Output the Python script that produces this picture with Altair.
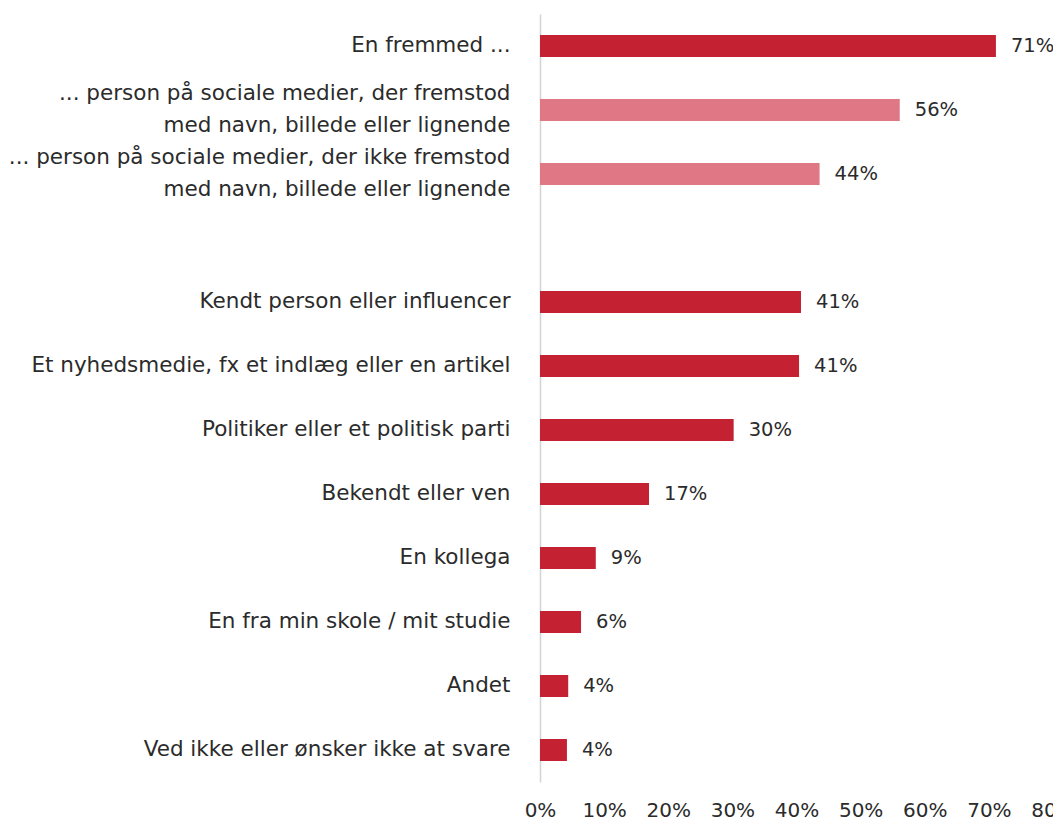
import altair as alt
import pandas as pd

categories = [
    "En fremmed ...",
    "... person på sociale medier, der fremstod|med navn, billede eller lignende",
    "... person på sociale medier, der ikke fremstod|med navn, billede eller lignende",
    "Kendt person eller influencer",
    "Et nyhedsmedie, fx et indlæg eller en artikel",
    "Politiker eller et politisk parti",
    "Bekendt eller ven",
    "En kollega",
    "En fra min skole / mit studie",
    "Andet",
    "Ved ikke eller ønsker ikke at svare",
]
values = [71.1, 56.1, 43.6, 40.7, 40.4, 30.2, 17.0, 8.7, 6.4, 4.4, 4.2]
labels = ["71%", "56%", "44%", "41%", "41%", "30%", "17%", "9%", "6%", "4%", "4%"]
groups = ["main", "sub", "sub", "main", "main", "main", "main", "main", "main", "main", "main"]
x_ticks = [0, 10, 20, 30, 40, 50, 60, 70, 80]

gap = " "
domain = categories[:3] + [gap] + categories[3:]

df = pd.DataFrame({"cat": categories, "value": values, "label": labels, "group": groups})

FONT = "DejaVu Sans"
FS = 21.5
TXT = "#2b2b2b"

yscale = alt.Scale(domain=domain, paddingInner=0.656, paddingOuter=0.328)
xscale = alt.Scale(domain=[0, 80], nice=False)

y_axis = alt.Axis(
    title=None,
    labelExpr="split(datum.value, '|')",
    labelFont=FONT,
    labelFontSize=FS,
    labelColor=TXT,
    labelPadding=30,
    labelLineHeight=32,
    labelLimit=600,
    labelOffset={"condition": {"test": "indexof(datum.value, '|') >= 0", "value": -16}, "value": 0},
    ticks=False,
    domainColor="#d4d4d4",
    domainWidth=1.5,
    grid=False,
)

x_axis = alt.Axis(
    title=None,
    values=x_ticks,
    labelExpr="datum.value + '%'",
    labelFont=FONT,
    labelFontSize=20,
    labelColor=TXT,
    labelPadding=18,
    labelFlush=False,
    labelOverlap=False,
    ticks=False,
    domain=False,
    grid=False,
)

bars = alt.Chart(df).mark_bar().encode(
    y=alt.Y("cat:N", scale=yscale, axis=y_axis),
    x=alt.X("value:Q", scale=xscale, axis=x_axis),
    color=alt.Color(
        "group:N",
        scale=alt.Scale(domain=["main", "sub"], range=["#C42133", "#DF7884"]),
        legend=None,
    ),
)

text = alt.Chart(df).mark_text(
    align="left", baseline="middle", dx=15, font=FONT, fontSize=19.5, color=TXT
).encode(
    y=alt.Y("cat:N", scale=yscale, axis=y_axis),
    x=alt.X("value:Q", scale=xscale, axis=x_axis),
    text="label:N",
)

chart = (
    alt.layer(bars, text)
    .properties(
        width=513,
        height=768,
        autosize="none",
        background="white",
        padding={"left": 532, "top": 6, "right": 0, "bottom": 38},
    )
    .configure_view(strokeWidth=0)
)

chart.save("out.html", embed_options={"renderer": "svg", "actions": False})
